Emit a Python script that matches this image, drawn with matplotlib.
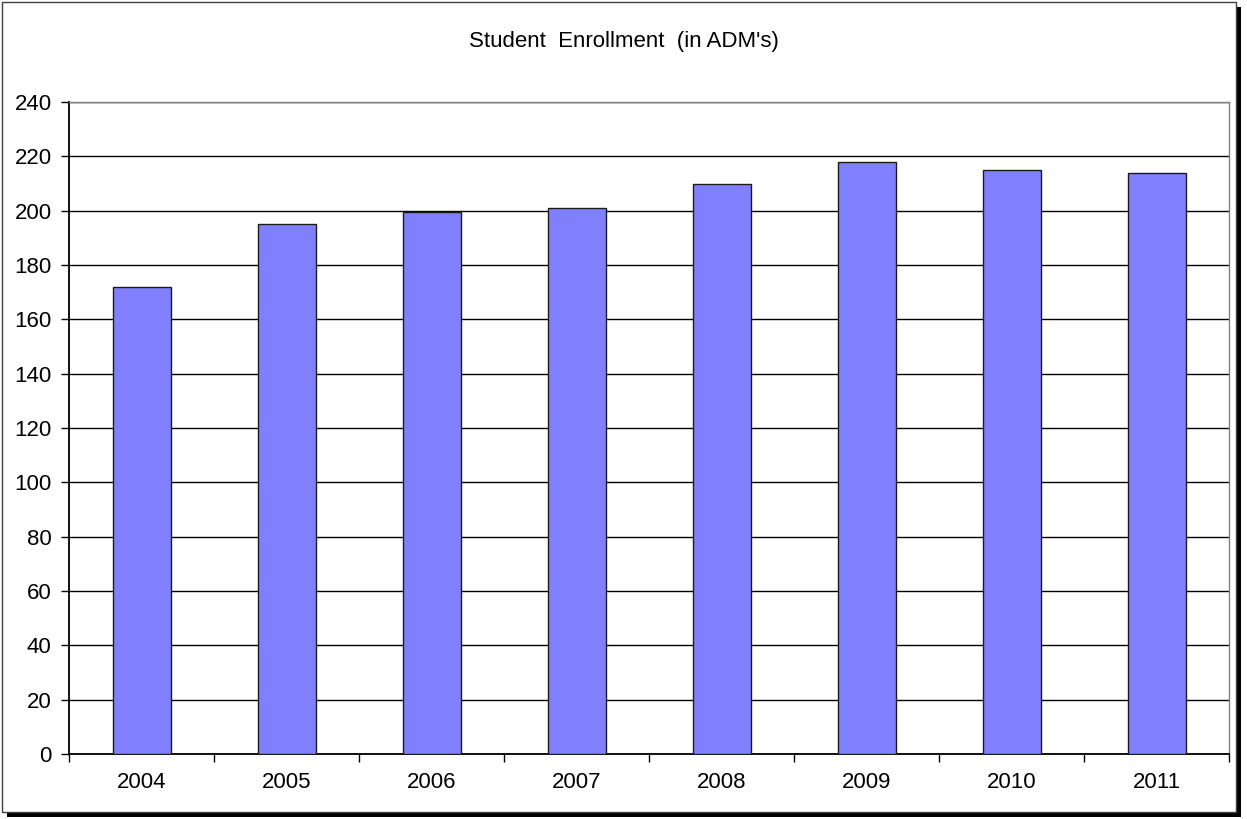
import matplotlib
matplotlib.use("Agg")
import matplotlib.pyplot as plt
from matplotlib.patches import Rectangle
import numpy as np

years = ["2004", "2005", "2006", "2007", "2008", "2009", "2010", "2011"]
enrollment = [172, 195, 199.5, 201, 210, 218, 215, 214]
y_ticks = list(range(0, 241, 20))

plt.rcParams['font.family'] = ['Liberation Sans', 'DejaVu Sans']

fig = plt.figure(figsize=(12.47, 8.19), dpi=100)
W, H = 1247, 819

# outer frame with shadow
fig.patches.append(Rectangle((7 / W, 1 - 817 / H), 1234 / W, 810 / H, transform=fig.transFigure,
                             facecolor='black', edgecolor='none', zorder=0))
fig.patches.append(Rectangle((2 / W, 1 - 812 / H), 1234 / W, 810 / H, transform=fig.transFigure,
                             facecolor='white', edgecolor='#404040', linewidth=1.0, zorder=1))

ax = fig.add_axes([69 / W, 1 - 754 / H, (1229 - 69) / W, (754 - 102) / H])
ax.set_zorder(2)
ax.patch.set_facecolor('white')

x = np.arange(len(years))
ax.bar(x, enrollment, width=0.4, color='#8080FF', edgecolor='#1a1a1a', linewidth=1.0, zorder=3)

ax.set_xlim(-0.5, len(years) - 0.5)
ax.set_ylim(0, 240)
ax.set_yticks(y_ticks)
ax.set_yticklabels([str(v) for v in y_ticks], fontsize=16)
ax.yaxis.grid(True, color='black', linewidth=1.0, zorder=1)
ax.set_axisbelow(True)

ax.set_xticks(x)
ax.set_xticklabels(years, fontsize=16)
ax.set_xticks(np.arange(-0.5, len(years), 1.0), minor=True)
ax.tick_params(axis='x', which='major', length=0, pad=13)
ax.tick_params(axis='x', which='minor', length=6, width=1.0, direction='out', color='black')
ax.tick_params(axis='y', which='major', length=6, width=1.0, direction='out', pad=6.5)

for s in ['left', 'bottom']:
    ax.spines[s].set_color('black')
    ax.spines[s].set_linewidth(1.3)
for s in ['top', 'right']:
    ax.spines[s].set_color('#808080')
    ax.spines[s].set_linewidth(1.0)

fig.text(0.5, 1 - 41 / H, "Student  Enrollment  (in ADM's)", ha='center', va='center', fontsize=16)

fig.savefig("out.png", dpi=100)
